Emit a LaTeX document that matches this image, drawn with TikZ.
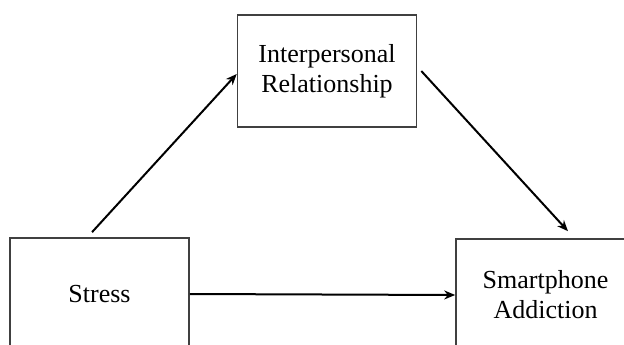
\documentclass[tikz,border=0pt]{standalone}
\usepackage{fontspec}
\setmainfont{Liberation Serif}
\usetikzlibrary{arrows.meta,calc}
\begin{document}
\begin{tikzpicture}[x=1pt,y=-1pt,
  box/.style={draw=black!75, line width=1.6pt, minimum width=179pt, minimum height=112pt,
    inner sep=0pt, align=center, font=\fontsize{26}{30}\selectfont},
  arr/.style={draw=black, line width=2pt, -{Stealth[length=11pt,width=9pt]}}]
\useasboundingbox (0,0) rectangle (624,345);
\clip (0,0) rectangle (624,345);
\fill[white] (0,0) rectangle (624,345);
\node[box] (inter) at (327,71) {Interpersonal\\Relationship};
\node[box] (stress) at (99.5,294) {Stress};
\node[box] (smart) at (545.5,295) {Smartphone\\Addiction};
\coordinate (s1) at ($(stress.north)+(-7.5,-5)$);
\coordinate (e1) at ($(inter.west)+(0,3)$);
\coordinate (s2) at ($(inter.east)+(4,0)$);
\coordinate (e2) at ($(smart.north)+(22.5,-7)$);
\draw[arr] (s1) -- (e1);
\draw[arr] (s2) -- (e2);
\draw[arr] (stress.east) -- (smart.west);
\end{tikzpicture}
\end{document}
